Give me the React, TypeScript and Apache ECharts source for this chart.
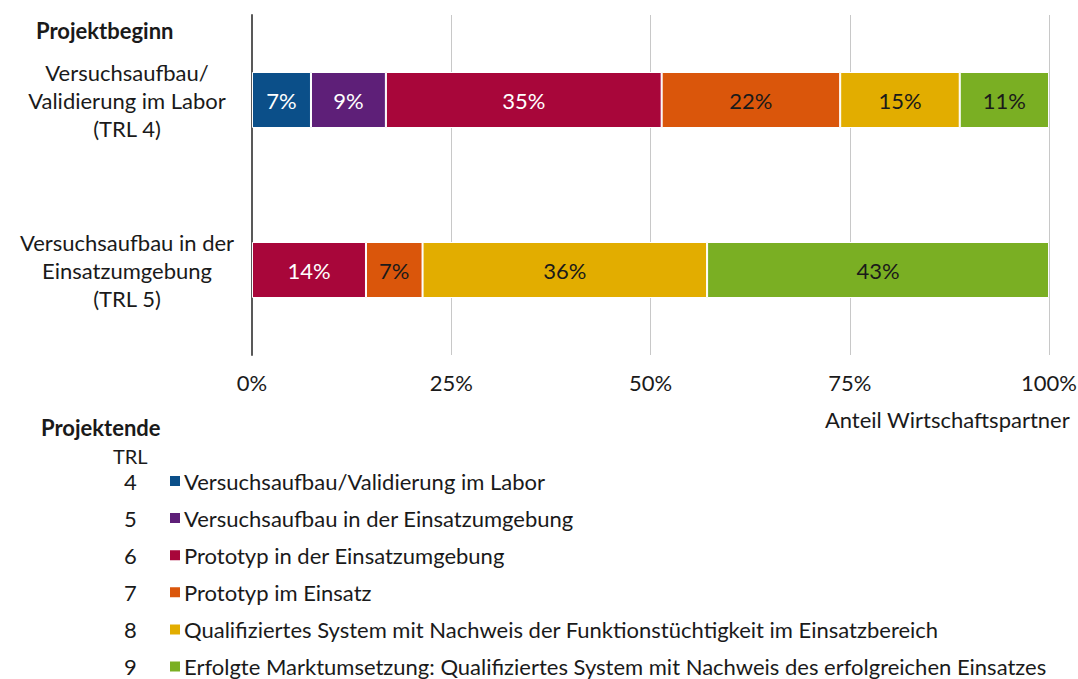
import React, { useEffect, useRef } from "react";
import * as echarts from "echarts";

const categories = [
  "Versuchsaufbau/\nValidierung im Labor\n(TRL 4)",
  "Versuchsaufbau in der\nEinsatzumgebung\n(TRL 5)",
];
const seriesNames = [
  "Versuchsaufbau/Validierung im Labor",
  "Versuchsaufbau in der Einsatzumgebung",
  "Prototyp in der Einsatzumgebung",
  "Prototyp im Einsatz",
  "Qualifiziertes System mit Nachweis der Funktionstüchtigkeit im Einsatzbereich",
  "Erfolgte Marktumsetzung: Qualifiziertes System mit Nachweis des erfolgreichen Einsatzes",
];
const trlLevels = ["4", "5", "6", "7", "8", "9"];
const trl4Values = [7.4, 9.4, 34.6, 22.4, 15.0, 11.2];
const trl5Values = [0, 0, 14.3, 7.1, 35.7, 42.9];
const colors = ["#0B4F89", "#5E1F78", "#A8063A", "#DA560B", "#E2AD00", "#7AAF23"];
const labelColors = ["#ffffff", "#ffffff", "#ffffff", "#1a1a1a", "#1a1a1a", "#1a1a1a"];
const xTicks = [0, 25, 50, 75, 100];

const FONT = "Lato, 'Open Sans', sans-serif";
const FS = 22;

export default function App() {
  const ref = useRef<HTMLDivElement>(null);
  useEffect(() => {
    if (!ref.current) return;
    const chart = echarts.init(ref.current, null, { renderer: "svg" });
    const series = seriesNames.map((name, i) => ({
      name,
      type: "bar",
      stack: "total",
      barWidth: 56,
      data: [trl4Values[i], trl5Values[i]].map((v) => (v > 0 ? v : null)),
      itemStyle: { color: colors[i], borderColor: "#ffffff", borderWidth: 1 },
      label: {
        show: true,
        position: "inside",
        color: labelColors[i],
        fontSize: FS,
        fontFamily: FONT,
        formatter: (p: any) => (p.value ? Math.round(p.value) + "%" : ""),
      },
    }));
    const trlGraphics = trlLevels.map((t, i) => ({
      type: "text",
      left: 124,
      top: 470 + i * 37.1,
      style: { text: t, fontSize: FS, lineHeight: 18, fontFamily: FONT, fill: "#1a1a1a" },
    }));
    chart.setOption({
      animation: false,
      textStyle: { fontFamily: FONT },
      grid: { left: 252, right: 29, top: 15, bottom: 324, outerBoundsMode: "none" },
      xAxis: {
        type: "value",
        min: 0,
        max: 100,
        interval: 25,
        axisLine: { show: false },
        axisTick: { show: false },
        splitLine: { show: true, lineStyle: { color: "#c8c8c8", width: 1 } },
        axisLabel: {
          formatter: (v: number) => (xTicks.includes(v) ? v + "%" : ""),
          fontSize: FS,
          color: "#1a1a1a",
          margin: 16,
          fontFamily: FONT,
        },
      },
      yAxis: {
        type: "category",
        data: categories,
        inverse: true,
        axisLine: { show: true, lineStyle: { color: "#595959", width: 2 } },
        axisTick: { show: false },
        axisLabel: {
          align: "center",
          margin: 125,
          fontSize: FS,
          lineHeight: 28,
          color: "#1a1a1a",
          fontFamily: FONT,
        },
      },
      legend: {
        orient: "vertical",
        left: 163,
        top: 464,
        height: 260,
        icon: "rect",
        itemWidth: 12,
        itemHeight: 12,
        itemGap: 13.1,
        data: seriesNames,
        textStyle: { fontSize: FS, lineHeight: 24, color: "#1a1a1a", fontFamily: FONT, padding: [0, 0, 0, -2] },
      },
      graphic: [
        {
          type: "text",
          left: 36,
          top: 19,
          style: { text: "Projektbeginn", fontSize: 22, fontWeight: "bold", fontFamily: FONT, fill: "#1a1a1a" },
        },
        {
          type: "text",
          right: 8,
          top: 408,
          style: { text: "Anteil Wirtschaftspartner", fontSize: FS, fontFamily: FONT, fill: "#1a1a1a" },
        },
        {
          type: "text",
          left: 41,
          top: 416,
          style: { text: "Projektende", fontSize: 22, fontWeight: "bold", fontFamily: FONT, fill: "#1a1a1a" },
        },
        {
          type: "text",
          left: 113,
          top: 446,
          style: { text: "TRL", fontSize: 20, lineHeight: 16, fontFamily: FONT, fill: "#1a1a1a" },
        },
        ...trlGraphics,
      ],
      series,
    });
    return () => chart.dispose();
  }, []);
  return (
    <div
      ref={ref}
      style={{ position: "fixed", left: 0, top: 0, width: 1078, height: 679, background: "#fff" }}
    />
  );
}
